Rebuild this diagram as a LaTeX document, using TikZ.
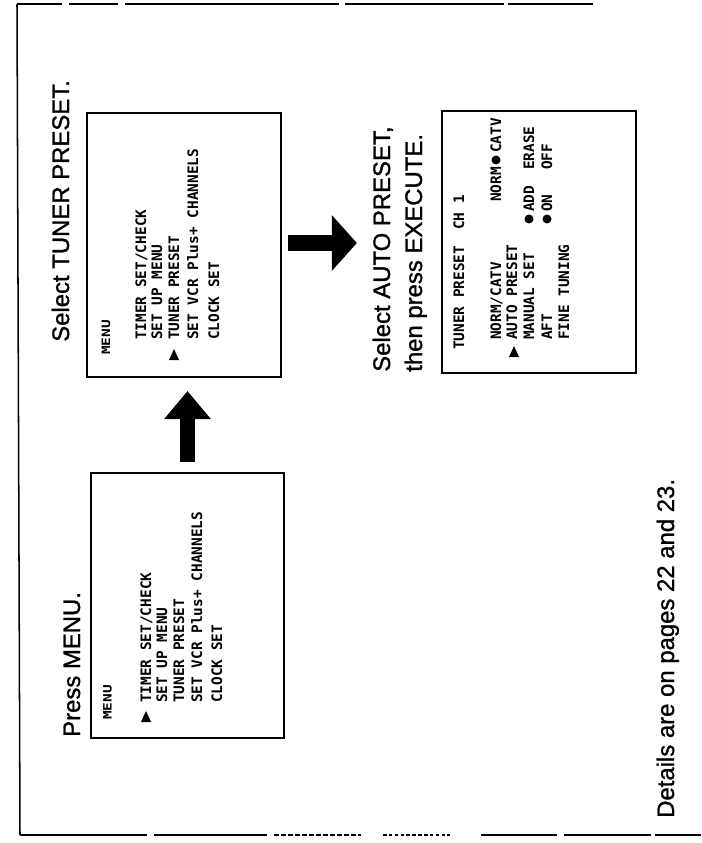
\documentclass[tikz,border=0pt]{standalone}
\usepackage{fontspec}
\setmainfont{Liberation Sans}
\newfontfamily\titlefont[FakeBold=1.2]{Liberation Sans}
\newfontfamily\lcdfont{DejaVu Sans Mono}
\usetikzlibrary{arrows.meta,calc}
\begin{document}
\begin{tikzpicture}[x=0.03cm,y=-0.03cm,
  screen/.style={draw, line width=2pt, inner sep=0pt},
  lcd/.style={rotate=90, anchor=base west, inner sep=0pt, font=\lcdfont\bfseries\fontsize{12.3}{14}\selectfont},
  lcdsm/.style={rotate=90, anchor=base west, inner sep=0pt, yscale=0.8, font=\lcdfont\bfseries\fontsize{12.3}{14}\selectfont},
  title/.style={rotate=90, anchor=base west, inner sep=0pt, font=\titlefont\fontsize{20.4}{24}\selectfont},
  frameline/.style={line width=1.3pt},
  blkup/.style={line width=12.8pt, -{Triangle[width=40pt,length=23.8pt,line width=0pt]}},
  blkright/.style={line width=14.5pt, -{Triangle[width=47.6pt,length=21.3pt,line width=0pt]}},
  marker/.style={fill=black}
]
\fill[white] (0,0) rectangle (701,843);
\useasboundingbox (0,0) rectangle (701,843);

% frame
\draw[frameline] (17,4) -- (20,835);
\draw[frameline] (17,4) -- (62,4);
\draw[frameline] (69,4) -- (118,4);
\draw[line width=1.8pt] (125,4) -- (339,4);
\draw[frameline] (345,4) -- (504,4);
\draw[frameline] (508,4) -- (593,4);
\draw[frameline] (20,835) -- (147,835);
\draw[line width=1.8pt] (154,835) -- (267,835);
\draw[frameline, dash pattern=on 4pt off 2pt] (274,835) -- (361,835);
\draw[line width=0.9pt, dash pattern=on 3pt off 2pt] (383,835) -- (450,835);
\draw[frameline] (481,835) -- (557,835);
\draw[line width=1.8pt] (564,835) -- (651,835);
\draw[frameline] (655,835) -- (701,835);

% screens
\node[screen, minimum width=193*0.03cm, minimum height=265*0.03cm] (b1) at (187.5,605.5) {};
\node[screen, minimum width=194*0.03cm, minimum height=264*0.03cm] (b2) at (184,245) {};
\node[screen, minimum width=194*0.03cm, minimum height=262*0.03cm] (b3) at (539,242) {};

% titles
\node[title] (t1) at (80,737) {Press MENU.};
\node[title] (t2) at (69,342) {Select TUNER PRESET.};
\node[title] (t3a) at (390,372) {Select AUTO PRESET,};
\node[title] (t3b) at (422,372) {then press EXECUTE.};
\node[title] (t4) at (674,818) {Details are on pages 22 and 23.};

% screen 1
\node[lcdsm] (m1) at (111.5,720) {MENU};
\node[lcd] (a1) at (151,703) {TIMER SET/CHECK};
\node[lcd] (a2) at (167,703) {SET UP MENU};
\node[lcd] (a3) at (184,703) {TUNER PRESET};
\node[lcd] (a4) at (202,703) {SET VCR Plus+ CHANNELS};
\node[lcd] (a5) at (222,703) {CLOCK SET};
\fill[marker] (141,722) -- (151,722) -- (146,711) -- cycle;

% screen 2
\node[lcdsm] (m2) at (110,355) {MENU};
\node[lcd] (c1) at (146,340) {TIMER SET/CHECK};
\node[lcd] (c2) at (162,340) {SET UP MENU};
\node[lcd] (c3) at (179,340) {TUNER PRESET};
\node[lcd] (c4) at (198,340) {SET VCR Plus+ CHANNELS};
\node[lcd] (c5) at (219,340) {CLOCK SET};
\fill[marker] (169,360) -- (179,360) -- (174,349) -- cycle;

% screen 3
\node[lcd] (d0) at (464,350) {TUNER PRESET};
\node[lcd] (d0b) at (464,230) {CH 1};
\node[lcd] (d1) at (501,340) {NORM/CATV};
\node[lcd] (d1b) at (501,202) {NORM};
\fill[marker] (496,160) circle (4.5);
\node[lcd] (d1c) at (501,153) {CATV};
\node[lcd] (d2) at (517,340) {AUTO PRESET};
\fill[marker] (509,357) -- (519,357) -- (514,346) -- cycle;
\node[lcd] (d3) at (534,340) {MANUAL SET};
\fill[marker] (529,219) circle (4.5);
\node[lcd] (d3b) at (534,212) {ADD};
\node[lcd] (d3c) at (534,170) {ERASE};
\node[lcd] (d4) at (552,340) {AFT};
\fill[marker] (547,219) circle (4.5);
\node[lcd] (d4b) at (552,212) {ON};
\node[lcd] (d4c) at (552,170) {OFF};
\node[lcd] (d5) at (569,340) {FINE TUNING};

% block arrows
\draw[blkup, shorten <=0.3cm, shorten >=0.39cm] (b1.north) -- (b1.north |- b2.south);
\draw[blkright, shorten <=0.18cm, shorten >=2.52cm] ($(b2.east)+(0,-2)$) -- ($(b2.east -| b3.west)+(0,-2)$);
\end{tikzpicture}
\end{document}
